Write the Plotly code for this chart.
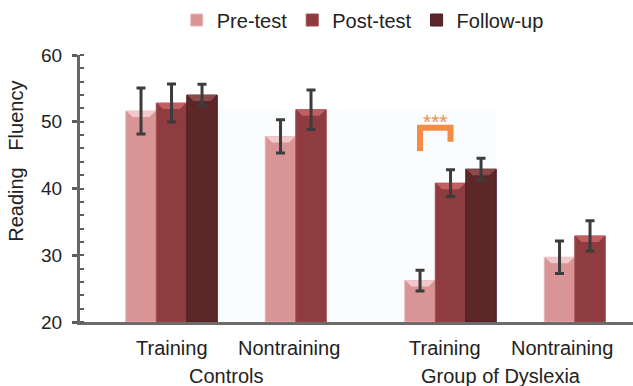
import plotly.graph_objects as go

# Reading fluency by group / condition and test session
groups = ["Controls", "Controls", "Group of Dyslexia", "Group of Dyslexia"]
conditions = ["Training", "Nontraining", "Training", "Nontraining"]
sessions = ["Pre-test", "Post-test", "Follow-up"]

pre_test = [51.6, 47.8, 26.2, 29.7]
post_test = [52.8, 51.8, 40.8, 32.9]
follow_up = [54.0, None, 42.9, None]

pre_err = [3.45, 2.5, 1.55, 2.45]
post_err = [2.85, 2.95, 2.0, 2.25]
follow_err = [1.6, None, 1.65, None]

y_ticks = [20, 30, 40, 50, 60]

values = [pre_test, post_test, follow_up]
errors = [pre_err, post_err, follow_err]
fills = ["#d99496", "#8e3c40", "#5d2628"]
edges = ["#e9b7b8", "#a44a4e", "#4a1c1e"]
bevels = ["#f1c9ca", "#c35e61", "#8c4a4b"]

pos = list(range(len(conditions)))
bargap = 0.344
bw = (1 - bargap) / len(sessions)
offsets = [(k - 1) * bw for k in range(len(sessions))]

fig = go.Figure()

# main bar bodies
for name, vals, fc, ec in zip(sessions, values, fills, edges):
    fig.add_trace(go.Bar(
        x=pos, y=[v - 20 if v is not None else None for v in vals], base=20,
        name=name, marker=dict(color=fc, line=dict(color=ec, width=1)),
        offsetgroup=name, hoverinfo="skip",
    ))

# bevelled top faces of the bars
bev_h = 0.9
bev_dx = 0.045
for vals, off, bc in zip(values, offsets, bevels):
    xs, ys = [], []
    for p, v in zip(pos, vals):
        if v is None:
            continue
        x0 = p + off - bw / 2 + 0.004
        x1 = p + off + bw / 2 - 0.004
        xs += [x0, x1, x1 - bev_dx, x0 + bev_dx, x0, None]
        ys += [v, v, v - bev_h, v - bev_h, v, None]
    fig.add_trace(go.Scatter(
        x=xs, y=ys, mode="lines", fill="toself", fillcolor=bc,
        line=dict(width=0), showlegend=False, hoverinfo="skip",
    ))

# error bars (drawn on top of the bars)
for vals, errs, off in zip(values, errors, offsets):
    xs, ys, es = [], [], []
    for p, v, e in zip(pos, vals, errs):
        if v is None:
            continue
        xs.append(p + off)
        ys.append(v)
        es.append(e)
    fig.add_trace(go.Scatter(
        x=xs, y=ys, mode="markers", marker=dict(size=1, opacity=0),
        error_y=dict(type="data", array=es, visible=True,
                     color="#3c3c3c", thickness=3, width=4.5),
        showlegend=False, hoverinfo="skip",
    ))

# significance bracket between pre- and post-test of the dyslexia training group
sig = 2
xl = sig + offsets[0]
xr = sig + offsets[1]
orange = "#f28c47"
fig.add_shape(type="path", xref="x", yref="y",
              path=f"M{xl},{45.6} L{xl},{49.1} L{xr},{49.1} L{xr},{47.0}",
              line=dict(color=orange, width=6), layer="above")
fig.add_annotation(x=(xl + xr) / 2, y=50.1, xref="x", yref="y", text="***",
                   showarrow=False, font=dict(size=21, color=orange),
                   yanchor="middle")

# faint panel behind the central bars
fig.add_shape(type="rect", xref="x", yref="y",
              x0=offsets[0] - bw / 2, x1=sig + offsets[2] + bw / 2,
              y0=20, y1=51.8, fillcolor="#fbfcfe", line=dict(width=0),
              layer="below")

# category labels
font = "Liberation Sans, Arial, sans-serif"
inner_shift = [0, -22, -6, -28]
for p, lab, sh in zip(pos, conditions, inner_shift):
    fig.add_annotation(x=p, y=0, xref="x", yref="paper", text=lab,
                       showarrow=False, xshift=sh, yshift=-26,
                       yanchor="middle",
                       font=dict(size=20, color="#222", family=font))
outer = ["Controls", "Group of Dyslexia"]
outer_shift = [-15, -19]
for k, (lab, sh) in enumerate(zip(outer, outer_shift)):
    fig.add_annotation(x=2 * k + 0.5, y=0, xref="x", yref="paper", text=lab,
                       showarrow=False, xshift=sh, yshift=-54,
                       yanchor="middle",
                       font=dict(size=20, color="#222", family=font))

# y-axis title, set a little above the middle of the axis
fig.add_annotation(x=0, y=0.6, xref="paper", yref="paper",
                   text="Reading\u00a0\u00a0\u00a0Fluency", textangle=-90,
                   showarrow=False, xanchor="center", yanchor="middle",
                   xshift=-64, font=dict(size=20, color="#222", family=font))

fig.update_layout(
    width=633, height=386,
    margin=dict(l=80, r=0, t=55, b=64),
    paper_bgcolor="white", plot_bgcolor="white",
    barmode="group", bargap=bargap, bargroupgap=0,
    font=dict(family=font, size=20, color="#222"),
    showlegend=True,
    legend=dict(orientation="h", x=0.175, xanchor="left", y=1.131,
                yanchor="middle", font=dict(size=20, color="#222"),
                bgcolor="rgba(0,0,0,0)", traceorder="normal"),
    xaxis=dict(range=[-0.656, 3.308], showticklabels=False, ticks="",
               showgrid=False, zeroline=False, showline=True,
               linewidth=3, linecolor="#6b6b6b", fixedrange=True),
    yaxis=dict(range=[20, 60], tickvals=y_ticks, ticks="outside",
               ticklen=5, tickwidth=3, tickcolor="#5e5e5e",
               minor=dict(dtick=2, ticks="inside", ticklen=4, tickwidth=2,
                          tickcolor="#5e5e5e"),
               showgrid=False, zeroline=False, showline=True, linewidth=3,
               linecolor="#666", ticklabelstandoff=6,
               tickfont=dict(size=19, color="#222")),
)

fig.write_html("out.html")
